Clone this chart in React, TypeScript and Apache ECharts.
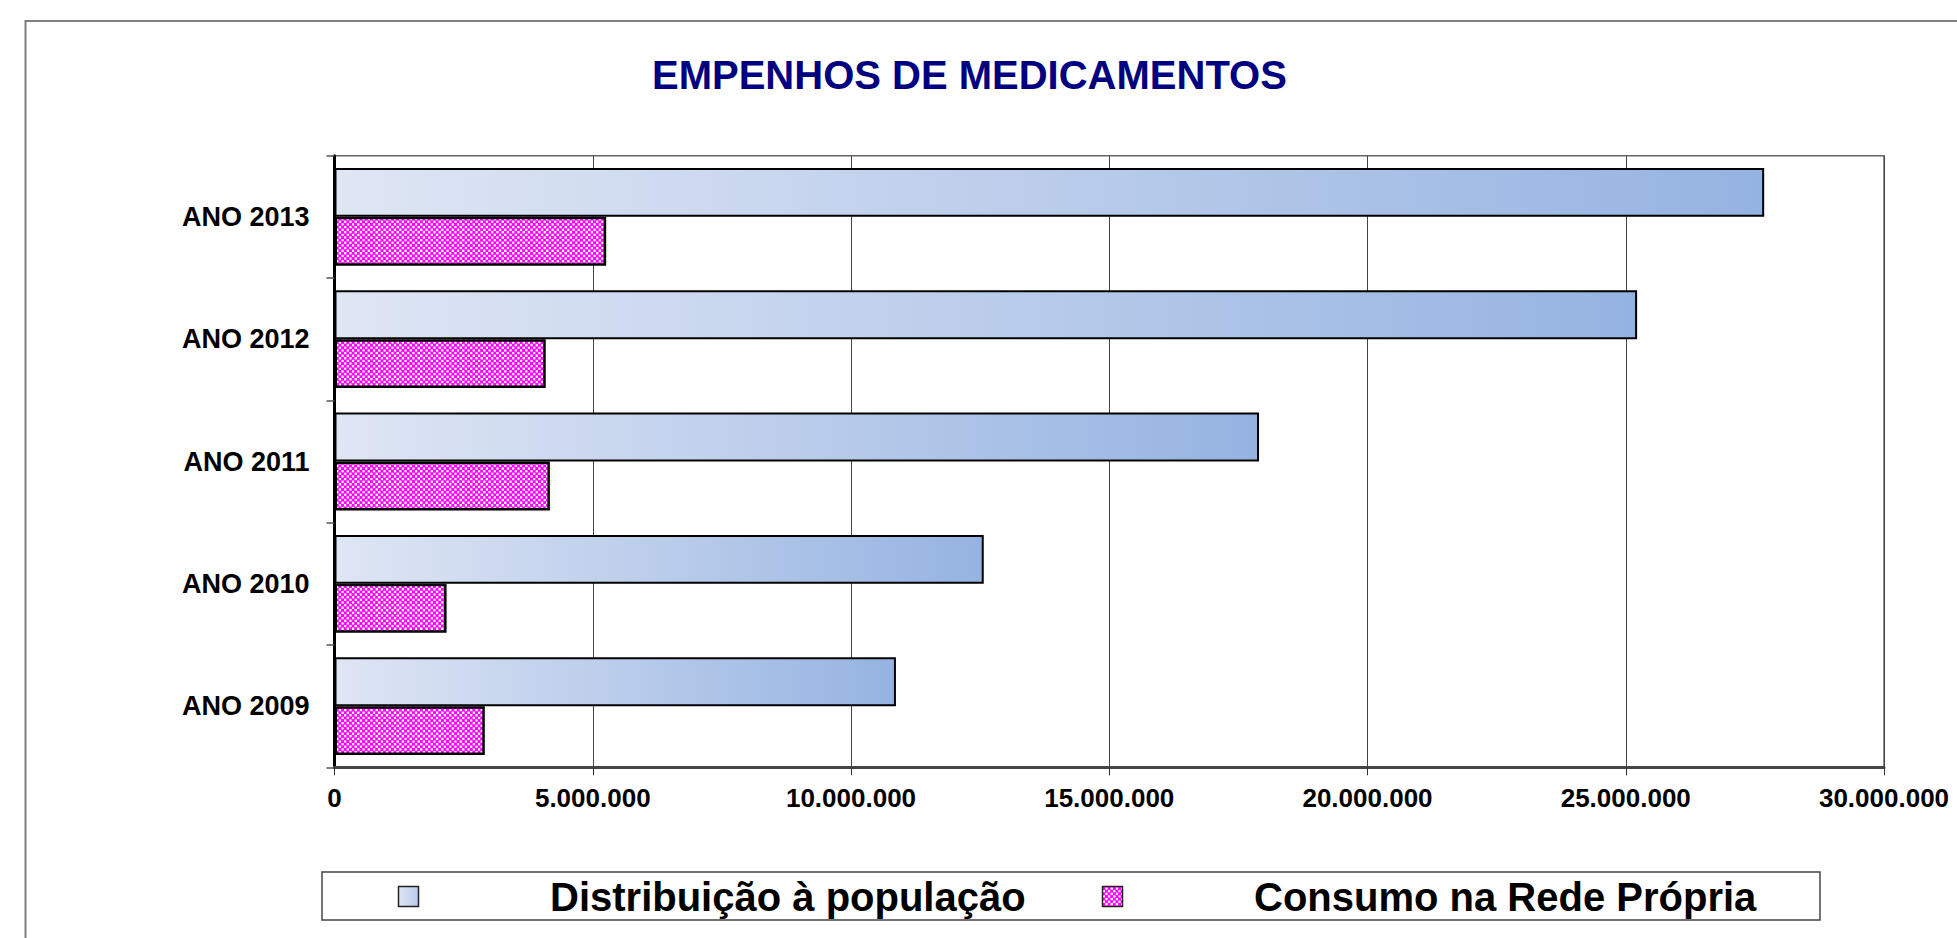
import React, { useEffect, useRef } from "react";
import * as echarts from "echarts";

const categories = ["ANO 2009", "ANO 2010", "ANO 2011", "ANO 2012", "ANO 2013"];
const distribuicao = [10870000, 12570000, 17900000, 25220000, 27680000];
const consumo = [2910000, 2170000, 4170000, 4090000, 5260000];
const seriesNames = ["Distribuição à população", "Consumo na Rede Própria"];
const titleText = "EMPENHOS DE MEDICAMENTOS";
const axisMin = 0;
const axisMax = 30000000;
const axisInterval = 5000000;

const FONT = '"Liberation Sans", Arial, sans-serif';

function fmt(v: number): string {
  return String(Math.round(v)).replace(/\B(?=(\d{3})+(?!\d))/g, ".");
}

function makePattern() {
  const size = 21;
  const c = document.createElement("canvas");
  c.width = size;
  c.height = size;
  const ctx = c.getContext("2d")!;
  ctx.fillStyle = "#ffffff";
  ctx.fillRect(0, 0, size, size);
  ctx.fillStyle = "#ff00ff";
  const n = 8;
  const cell = size / n;
  for (let i = 0; i < n; i++) {
    for (let j = 0; j < n; j++) {
      if ((i + j) % 2 === 0) ctx.fillRect(i * cell - 0.2, j * cell - 0.2, cell + 0.4, cell + 0.4);
    }
  }
  return { image: c, repeat: "repeat", imageWidth: size, imageHeight: size } as any;
}

export default function App() {
  const ref = useRef<HTMLDivElement>(null);
  useEffect(() => {
    if (!ref.current) return;
    const chart = echarts.init(ref.current, undefined, { renderer: "svg" });
    const pattern = makePattern();
    const blueGrad = new echarts.graphic.LinearGradient(0, 0, 1, 0, [
      { offset: 0, color: "#DFE6F4" },
      { offset: 1, color: "#95B3E1" },
    ]);
    const blueGradIcon = new echarts.graphic.LinearGradient(0, 0, 1, 0, [
      { offset: 0, color: "#DFE6F4" },
      { offset: 1, color: "#B8CAEA" },
    ]);
    chart.setOption({
      animation: false,
      backgroundColor: "#ffffff",
      title: {
        text: titleText,
        left: 647,
        top: 50,
        textStyle: { fontFamily: FONT, fontSize: 40, fontWeight: "bold", color: "#000080" },
      },
      grid: {
        left: 334.5,
        right: 73,
        top: 155.7,
        bottom: 170.7,
        containLabel: false,
        outerBoundsMode: "none",
        show: true,
        borderColor: "#666",
        borderWidth: 1.5,
        backgroundColor: "transparent",
      },
      xAxis: {
        type: "value",
        min: axisMin,
        max: axisMax,
        interval: axisInterval,
        axisLine: { show: true, lineStyle: { color: "#444", width: 3 } },
        axisTick: { show: true, length: 8, lineStyle: { color: "#333", width: 1 } },
        splitLine: { show: true, lineStyle: { color: "#444", width: 1 } },
        axisLabel: {
          margin: 18,
          formatter: (v: number) => fmt(v),
          fontFamily: FONT,
          fontSize: 26,
          fontWeight: "bold",
          color: "#000",
        },
      },
      yAxis: {
        type: "category",
        data: categories,
        axisLine: { show: true, lineStyle: { color: "#000", width: 3 } },
        axisTick: { show: true, length: 8, lineStyle: { color: "#555", width: 1.5 } },
        splitLine: { show: false },
        axisLabel: {
          margin: 25,
          fontFamily: FONT,
          fontSize: 27,
          fontWeight: "bold",
          color: "#000",
        },
      },
      series: [
        {
          name: seriesNames[0],
          type: "bar",
          data: distribuicao,
          barCategoryGap: "20%",
          barGap: "0%",
          itemStyle: { color: blueGrad, borderColor: "#000", borderWidth: 2 },
        },
        {
          name: seriesNames[1],
          type: "bar",
          data: consumo,
          barCategoryGap: "20%",
          barGap: "0%",
          itemStyle: { color: pattern, borderColor: "#000", borderWidth: 2.5 },
        },
      ],
      graphic: [
        {
          type: "rect",
          silent: true,
          shape: { x: 25.5, y: 21, width: 2100, height: 1100 },
          style: { fill: "none", stroke: "#808080", lineWidth: 2 },
          z: 100,
        },
        {
          type: "rect",
          silent: true,
          shape: { x: 322, y: 872, width: 1498, height: 48 },
          style: { fill: "#fff", stroke: "#444", lineWidth: 1.5 },
          z: 100,
        },
        {
          type: "rect",
          silent: true,
          shape: { x: 398.5, y: 886.5, width: 20, height: 20 },
          style: { fill: blueGradIcon, stroke: "#222", lineWidth: 1.5 },
          z: 101,
        },
        {
          type: "text",
          silent: true,
          x: 550,
          y: 897,
          style: {
            text: seriesNames[0],
            font: `bold 40px ${FONT}`,
            fill: "#000",
            verticalAlign: "middle",
            align: "left",
          },
          z: 101,
        },
        {
          type: "rect",
          silent: true,
          shape: { x: 1102.5, y: 886.5, width: 20, height: 20 },
          style: { fill: pattern, stroke: "#222", lineWidth: 1.5 },
          z: 101,
        },
        {
          type: "text",
          silent: true,
          x: 1254,
          y: 897,
          style: {
            text: seriesNames[1],
            font: `bold 40px ${FONT}`,
            fill: "#000",
            verticalAlign: "middle",
            align: "left",
          },
          z: 101,
        },
      ],
    });
    return () => chart.dispose();
  }, []);
  return (
    <div
      ref={ref}
      style={{ position: "absolute", left: 0, top: 0, width: 1957, height: 938 }}
    />
  );
}
